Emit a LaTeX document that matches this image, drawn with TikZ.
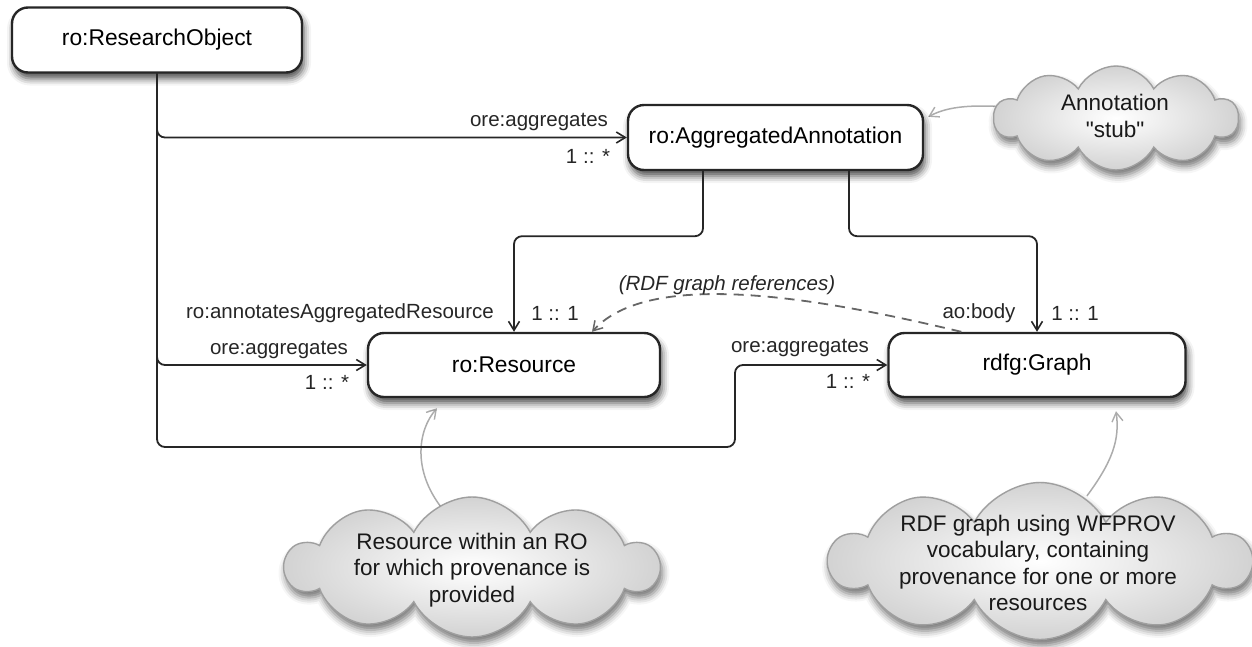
\documentclass[tikz,border=0pt]{standalone}
\usepackage{fontspec}
\setmainfont{Liberation Sans}[Ligatures=TeXOff]
\usetikzlibrary{arrows.meta,shapes.symbols,shadows.blur,calc}
\pgfdeclarelayer{background}
\pgfsetlayers{background,main}
\begin{document}
\begin{tikzpicture}[x=1pt,y=-1pt,
  box/.style={draw=black!85,line width=2.4pt,rounded corners=16pt,fill=white,minimum height=65pt,inner sep=0pt,
    font=\fontsize{22.8}{27}\selectfont,
    blur shadow={shadow xshift=2pt,shadow yshift=-6pt,shadow blur radius=7pt,shadow opacity=70}},
  conn/.style={draw=black!85,line width=1.8pt,rounded corners=8pt,-{Straight Barb[length=9pt,width=11pt,line width=1.6pt]}},
  lbl/.style={font=\fontsize{20.5}{24}\selectfont,inner sep=0pt,text=black!85},
  cloudbox/.style={cloud,cloud puffs=10,cloud puff arc=125,cloud ignores aspect,draw=gray!75,line width=1.4pt,
    inner color=white,outer color=gray!35,inner sep=0pt,
    blur shadow={shadow xshift=2pt,shadow yshift=-6pt,shadow blur radius=7pt,shadow opacity=55}},
  cloudtext/.style={align=center,inner sep=0pt,font=\fontsize{22.5}{26.5}\selectfont,text=black!90},
  note/.style={draw=gray!65,line width=1.5pt,-{Straight Barb[length=9pt,width=11pt,line width=1.4pt]}},
  dashedref/.style={draw=black!60,line width=1.8pt,dash pattern=on 10pt off 7pt,-{Straight Barb[length=9pt,width=11pt,line width=1.5pt]}},
]
\useasboundingbox (0,0) rectangle (1252,646);

% class boxes
\node[box,minimum width=290pt] (ro) at (157,40) {ro:ResearchObject};
\node[box,minimum width=295pt] (agg) at (775.5,137.5) {ro:AggregatedAnnotation};
\node[box,minimum width=292pt,minimum height=64pt] (res) at (514,365) {ro:Resource};
\node[box,minimum width=297pt,minimum height=64pt] (graph) at (1037,365) {rdfg:Graph};

% clouds
\node[cloudbox,minimum width=244pt,minimum height=104pt] (annc) at (1116,118) {};
\node[cloudtext] (annt) at (1115,116) {Annotation\\"stub"};
\node[cloudbox,minimum width=372pt,minimum height=140pt] (resc) at (472,567) {};
\node[cloudtext] (rest) at (472,570) {Resource within an RO\\for which provenance is\\provided};
\node[cloudbox,minimum width=420pt,minimum height=157pt] (grc) at (1040,561) {};
\node[cloudtext] (grt) at (1038,563) {RDF graph using WFPROV\\vocabulary, containing\\provenance for one or more\\resources};

% connectors from ResearchObject
\coordinate (c1) at (735,447);
\draw[conn] (ro.south) |- (agg.west);
\draw[conn] (ro.south) |- (res.west);
\draw[conn] (ro.south) |- (c1) |- (graph.west);

% connectors from AggregatedAnnotation
\draw[conn] ([xshift=-72.5pt]agg.south) -- ++(0,65) -| (res.north);
\draw[conn] ([xshift=73.5pt]agg.south) -- ++(0,65) -| (graph.north);

% dashed reference
\draw[dashedref] ([xshift=74pt]graph.north west) .. controls (820,298) and (650,268) .. ([xshift=78pt]res.north);

% cloud notes (behind the clouds)
\begin{pgfonlayer}{background}
\coordinate (anntip) at ($(agg.north east)+(4,13)$);
\draw[note] ([xshift=14pt,yshift=11pt]annc.west) .. controls (965,104) and (945,108) .. (anntip);
\draw[note] ([xshift=-30pt,yshift=-12pt]resc.north) .. controls (412,470) and (418,430) .. ([xshift=-77pt,yshift=-10pt]res.south);
\draw[note] ([xshift=47pt,yshift=-14pt]grc.north) .. controls (1112,462) and (1120,440) .. ([xshift=79pt,yshift=-13pt]graph.south);
\end{pgfonlayer}

% labels
\node[lbl] (l1) at (539,122) {ore:aggregates};
\node[lbl] (l2) at (588,156) {1 :: *};
\node[lbl] (l3) at (279,350) {ore:aggregates};
\node[lbl] (l4) at (327,382) {1 :: *};
\node[lbl] (l5) at (340,313) {ro:annotatesAggregatedResource};
\node[lbl] (l6) at (555,313) {1 :: 1};
\node[lbl] (l7) at (800,348) {ore:aggregates};
\node[lbl] (l8) at (848,381) {1 :: *};
\node[lbl] (l9) at (979,313) {ao:body};
\node[lbl] (l10) at (1075,313) {1 :: 1};
\node[lbl,font=\fontsize{20.5}{24}\selectfont\itshape] (l11) at (727,285) {(RDF graph references)};
\end{tikzpicture}
\end{document}
